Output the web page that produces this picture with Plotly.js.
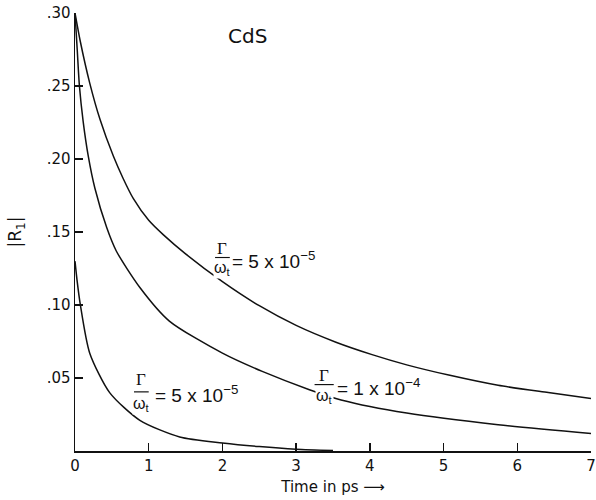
<!DOCTYPE html>
<html>
<head>
<meta charset="utf-8">
<script src="https://cdn.plot.ly/plotly-3.0.1.min.js"></script>
<style>html,body{margin:0;padding:0;background:#fff;}#chart{width:596px;height:500px;}</style>
</head>
<body>
<div id="chart"></div>
<script>
// Upper curve: Gamma/omega_t = 5e-5
const tUpper = [0, 0.07, 0.2, 0.34, 0.52, 0.65, 0.79, 1.0, 1.2, 1.5, 2.0, 2.5, 3.0, 3.54, 4.03, 4.5, 5.07, 5.74, 6.42, 7];
const rUpper = [0.300, 0.281, 0.252, 0.227, 0.202, 0.187, 0.173, 0.158, 0.148, 0.135, 0.116, 0.0995, 0.086, 0.0745, 0.066, 0.059, 0.052, 0.045, 0.040, 0.036];
// Middle curve: Gamma/omega_t = 1e-4
const tMiddle = [0, 0.03, 0.06, 0.11, 0.18, 0.27, 0.43, 0.56, 0.88, 1.28, 2.0, 2.54, 3.18, 3.61, 4.5, 5.74, 7];
const rMiddle = [0.300, 0.275, 0.250, 0.226, 0.202, 0.180, 0.153, 0.137, 0.112, 0.089, 0.067, 0.0545, 0.042, 0.035, 0.026, 0.018, 0.012];
// Lower curve: Gamma/omega_t = 5e-5
const tLower = [0, 0.03, 0.07, 0.2, 0.47, 0.88, 1.42, 2.0, 2.5, 3.0, 3.5];
const rLower = [0.130, 0.116, 0.101, 0.067, 0.040, 0.021, 0.0096, 0.0055, 0.003, 0.0012, 0.0003];

const xTicks = [0, 1, 2, 3, 4, 5, 6, 7];
const xTickText = ["0", "1", "2", "3", "4", "5", "6", "7"];
const yTicks = [0.05, 0.10, 0.15, 0.20, 0.25, 0.30];
const yTickText = [".05", ".10", ".15", ".20", ".25", ".30"];

const FONT = "DejaVu Sans, Liberation Sans, sans-serif";
const LFONT = "Liberation Sans, Arial, sans-serif";
const lineStyle = {color: "#111", width: 1.5, shape: "spline", smoothing: 0.7};

const traces = [
  {x: tUpper, y: rUpper, mode: "lines", line: lineStyle, hoverinfo: "skip"},
  {x: tMiddle, y: rMiddle, mode: "lines", line: lineStyle, hoverinfo: "skip"},
  {x: tLower, y: rLower, mode: "lines", line: lineStyle, hoverinfo: "skip"}
];

function fracLabel(xc, yTop, yBar, yBot, halfW, xText, yText, text) {
  return {
    ann: [
      {x: xc, y: yTop, xref: "x", yref: "y", text: "Γ", showarrow: false,
       font: {family: "Liberation Serif, serif", size: 17, color: "#111"}},
      {x: xc, y: yBot, xref: "x", yref: "y", text: "ω<sub>t</sub>", showarrow: false,
       font: {family: LFONT, size: 16, color: "#111"}, bgcolor: "#fff", borderpad: 0},
      {x: xText, y: yText, xref: "x", yref: "y", text: text, showarrow: false, xanchor: "left",
       font: {family: LFONT, size: 19, color: "#111"}}
    ],
    shape: {type: "line", xref: "x", yref: "y", x0: xc - halfW, x1: xc + halfW, y0: yBar, y1: yBar,
            line: {color: "#111", width: 1.2}}
  };
}

const l1 = fracLabel(2.0, 0.139, 0.1325, 0.125, 0.10, 2.10, 0.131, "= 5 x 10<sup>−5</sup>");
const l2 = fracLabel(0.90, 0.049, 0.0405, 0.032, 0.10, 1.06, 0.039, "= 5 x 10<sup>−5</sup>");
const l3 = fracLabel(3.38, 0.052, 0.0455, 0.037, 0.13, 3.53, 0.0438, "= 1 x 10<sup>−4</sup>");

const annotations = [
  {x: 2.34, y: 0.284, xref: "x", yref: "y", text: "CdS", showarrow: false,
   font: {family: FONT, size: 20, color: "#111"}}
].concat(l1.ann, l2.ann, l3.ann);

const layout = {
  width: 596, height: 500,
  margin: {l: 75, r: 5, t: 13, b: 49},
  paper_bgcolor: "#fff", plot_bgcolor: "#fff",
  showlegend: false,
  font: {family: FONT, size: 15, color: "#111"},
  xaxis: {
    range: [0, 7], tickvals: xTicks, ticktext: xTickText,
    showline: true, linecolor: "#111", linewidth: 1.5,
    ticks: "inside", ticklen: 8, tickwidth: 1.3, tickcolor: "#111",
    showgrid: false, zeroline: false, ticklabeloverflow: "allow",
    tickfont: {family: FONT, size: 15, color: "#111"},
    title: {text: "Time in ps ⟶", font: {family: FONT, size: 15, color: "#111"}, standoff: 8}
  },
  yaxis: {
    range: [0, 0.30], tickvals: yTicks, ticktext: yTickText,
    showline: true, linecolor: "#111", linewidth: 1.5,
    ticks: "inside", ticklen: 8, tickwidth: 1.3, tickcolor: "#111",
    showgrid: false, zeroline: false, ticklabeloverflow: "allow",
    tickfont: {family: FONT, size: 15, color: "#111"},
    title: {text: "|R<sub>1</sub>|", font: {family: FONT, size: 17, color: "#111"}, standoff: 20}
  },
  annotations: annotations,
  shapes: [l1.shape, l2.shape, l3.shape]
};

Plotly.newPlot("chart", traces, layout, {displayModeBar: false, staticPlot: true});
</script>
</body>
</html>
